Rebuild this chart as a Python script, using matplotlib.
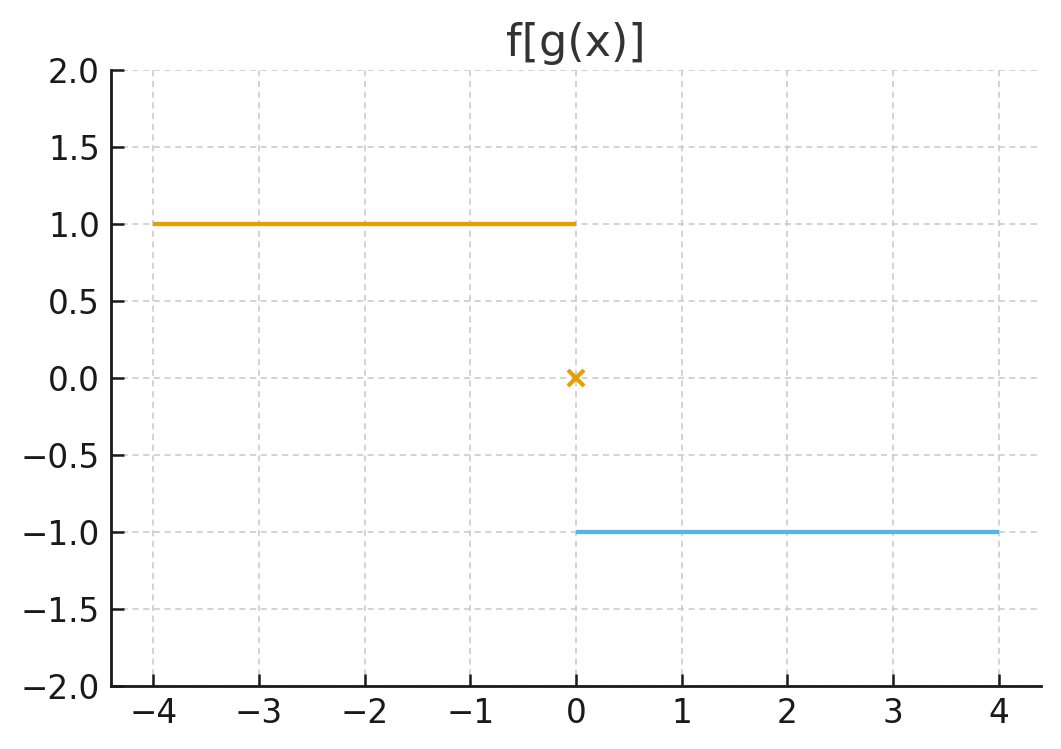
import matplotlib
matplotlib.use("Agg")
import matplotlib.pyplot as plt
import numpy as np

# Data
left_x = [-4, 0]
left_y = [1, 1]
right_x = [0, 4]
right_y = [-1, -1]
point_x = [0]
point_y = [0]
xticks = [-4, -3, -2, -1, 0, 1, 2, 3, 4]
yticks = [-2.0, -1.5, -1.0, -0.5, 0.0, 0.5, 1.0, 1.5, 2.0]

orange = "#E69F00"
blue = "#56B4E9"

fig = plt.figure(figsize=(10.61, 7.49), dpi=100)
ax = fig.add_axes([0.1046, 0.0841, 0.8766, 0.8224])

ax.plot(left_x, left_y, color=orange, lw=3.1, solid_capstyle="butt", zorder=3)
ax.plot(right_x, right_y, color=blue, lw=3.1, solid_capstyle="butt", zorder=3)
ax.plot(point_x, point_y, marker="x", color=orange, ms=12, mew=3, ls="none", zorder=4)

ax.set_xlim(-4.4, 4.4)
ax.set_ylim(-2, 2)
ax.set_xticks(xticks)
ax.set_yticks(yticks)
ax.set_xticklabels([f"{v:d}".replace("-", "\u2212") for v in xticks])
ax.set_yticklabels([f"{v:.1f}".replace("-", "\u2212") for v in yticks])

ax.grid(True, ls=(0, (4, 3)), color="#c8c8c8", lw=1.1)
ax.set_axisbelow(True)
for s in ["top", "right"]:
    ax.spines[s].set_visible(False)
for s in ["left", "bottom"]:
    ax.spines[s].set_linewidth(2)
    ax.spines[s].set_color("#1a1a1a")
ax.tick_params(direction="in", length=9, width=1.8, labelsize=23.5, colors="#1a1a1a", pad=8)

ax.set_title("f[g(x)]", fontsize=32, color="#333333", pad=10)

fig.savefig("out.png", dpi=100)
